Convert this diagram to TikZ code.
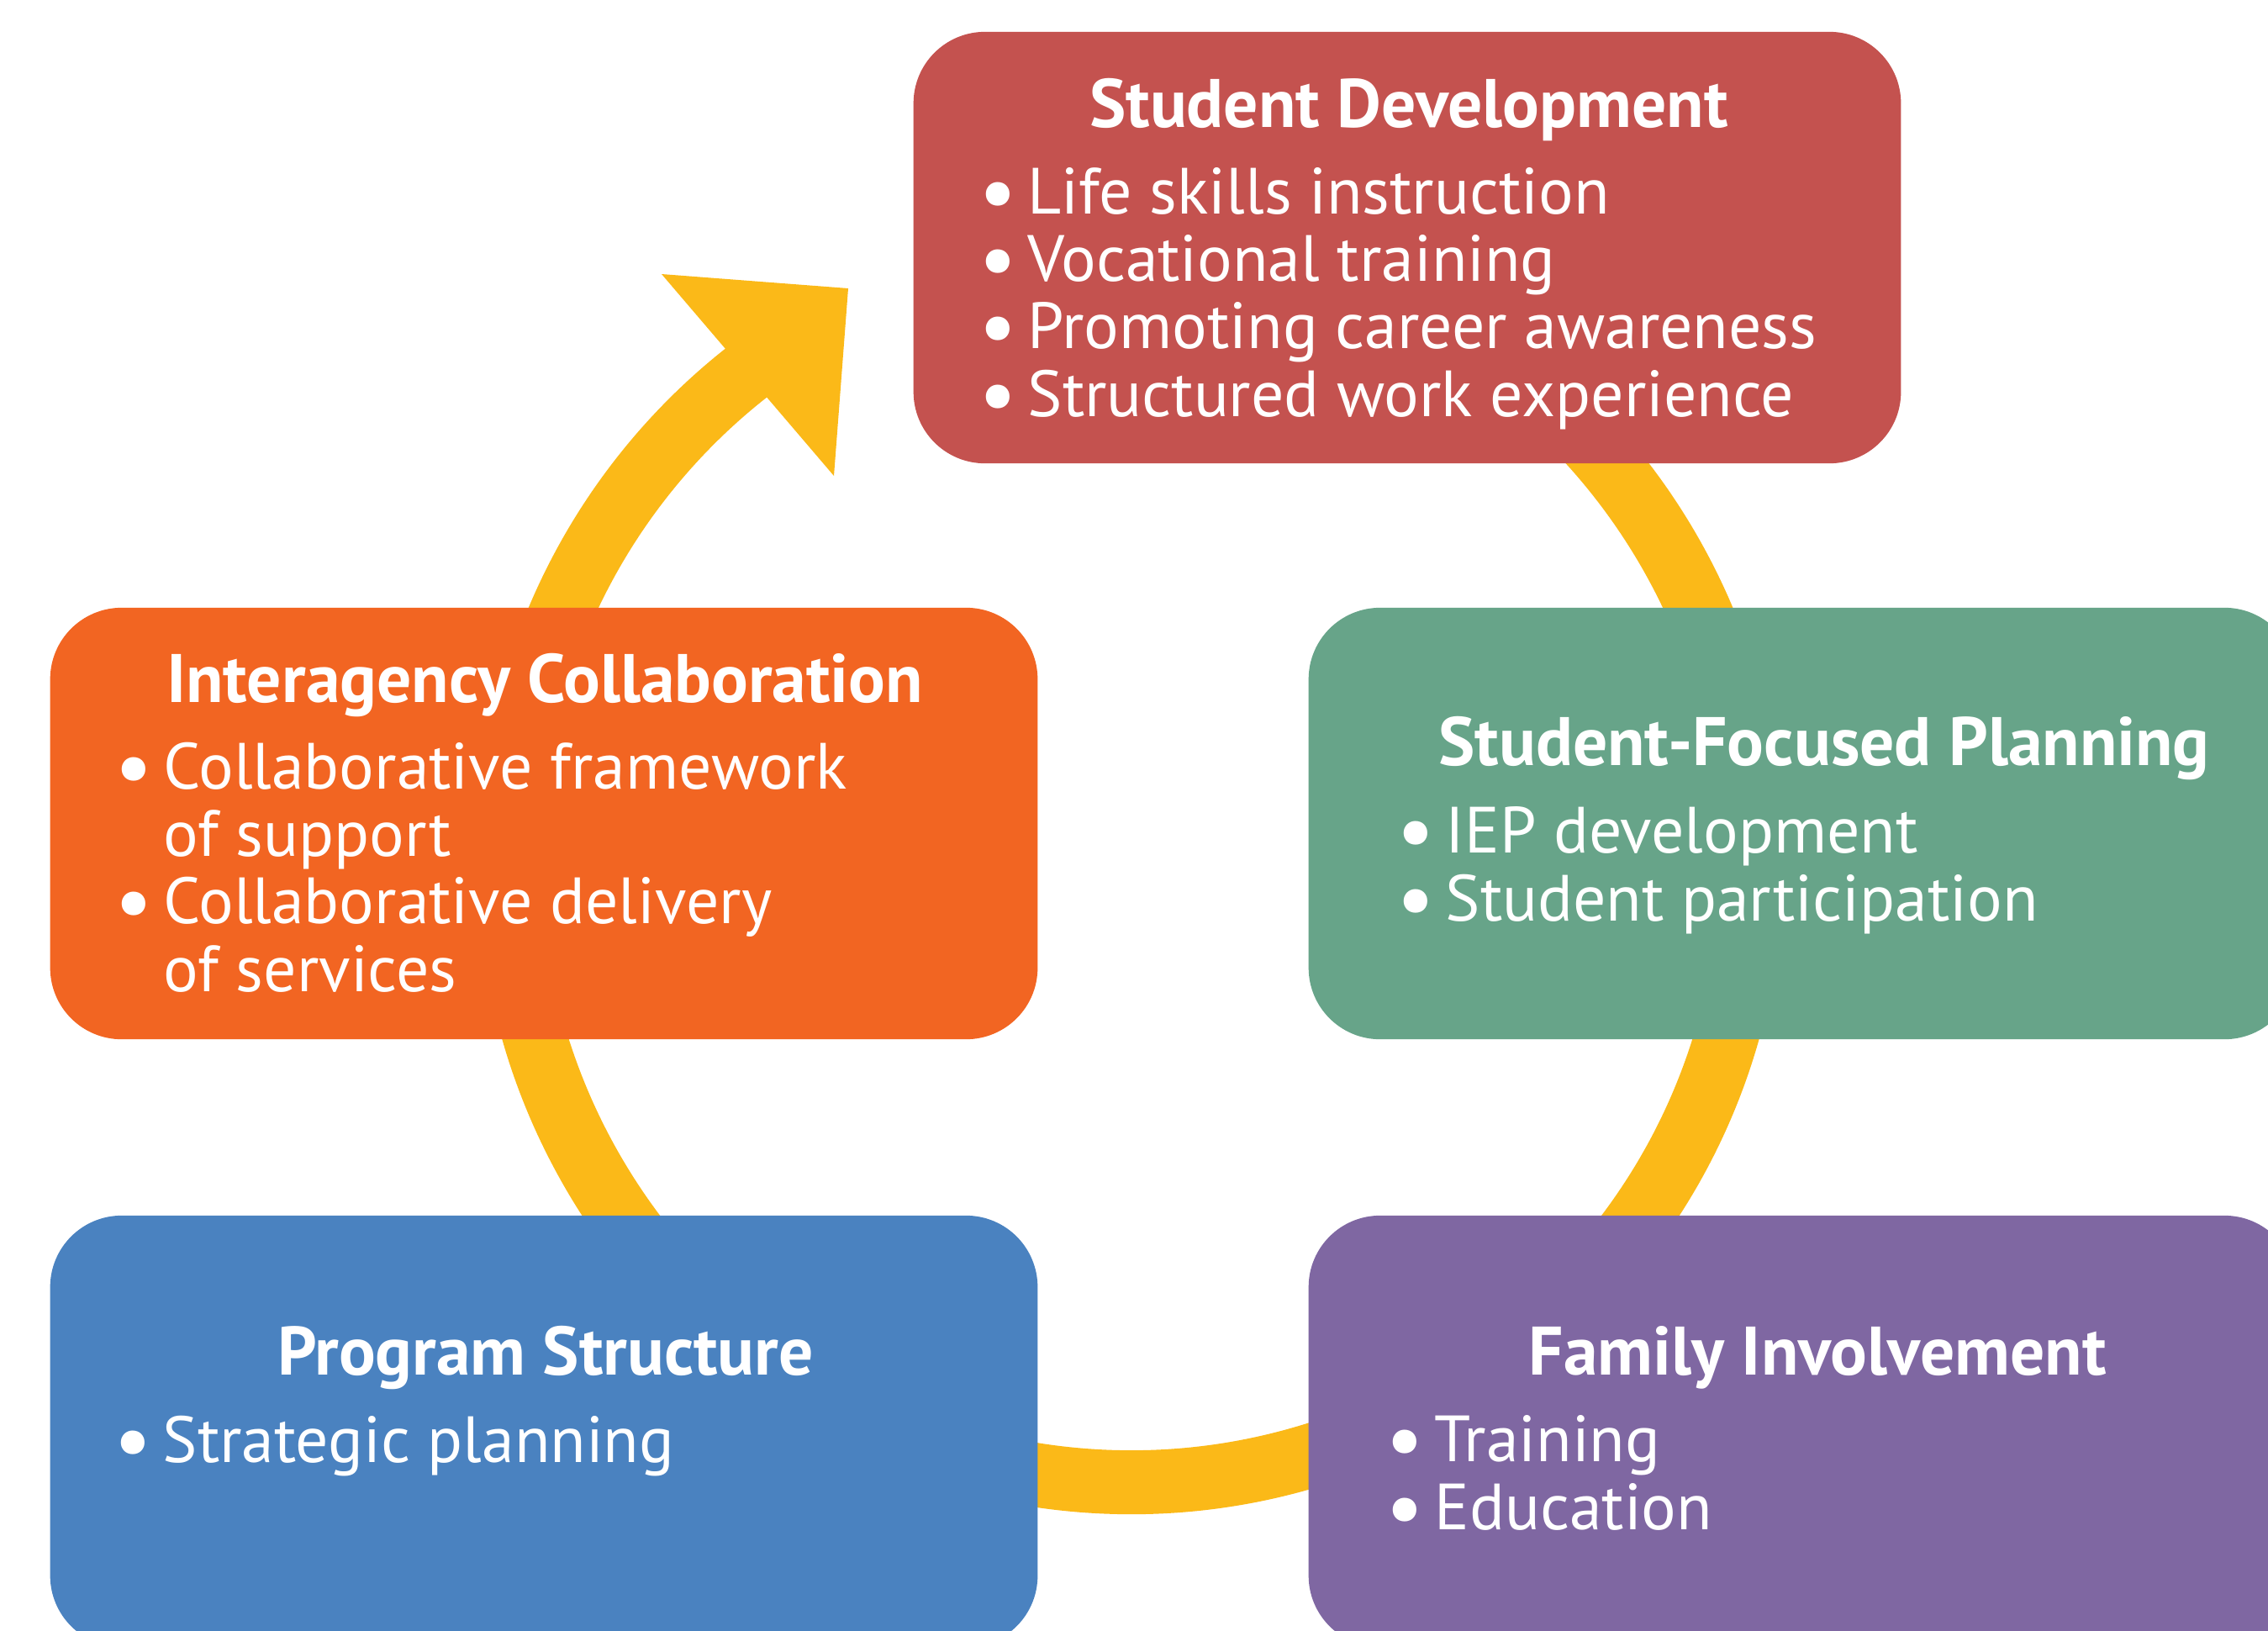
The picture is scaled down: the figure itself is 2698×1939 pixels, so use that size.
\documentclass[tikz,border=0pt]{standalone}
\usepackage{fontspec}
\setmainfont{PT Sans}
\usepackage{xcolor}
\usepackage{graphicx}
\usepackage{tikz}
\usetikzlibrary{positioning}
\definecolor{sdred}{HTML}{C4524F}
\definecolor{iaorange}{HTML}{F26522}
\definecolor{sfgreen}{HTML}{67A489}
\definecolor{psblue}{HTML}{4A82C0}
\definecolor{fipurple}{HTML}{7F67A2}
\definecolor{ringyel}{HTML}{FBB918}
\newcommand{\itm}[1]{\makebox[0.58cm][l]{\raisebox{-0.08cm}{\scalebox{1.3}{\textbullet}}}#1}
\newcommand{\cont}[1]{\hspace*{0.58cm}#1}

\begin{document}
\begin{tikzpicture}[x=0.01cm, y=-0.01cm,
  box/.style={fill=#1, rounded corners=0.85cm, minimum width=11.74cm, minimum height=5.13cm, inner sep=0pt},
  ttl/.style={anchor=base, text=white, inner sep=0pt, font=\bfseries\fontsize{23.2}{22.8}\selectfont},
  lst/.style={anchor=base west, text=white, inner sep=0pt, align=left, font=\fontsize{22.1}{22.8}\selectfont},
  ring/.style={draw=ringyel, line width=0.76cm}]
\useasboundingbox (0,0) rectangle (2698,1939);
% cycle ring with arrowhead
\coordinate (hub) at (1345,1024);
\draw[ring] (hub) ++(-80:739) arc[start angle=-80, end angle=234, radius=739];
\coordinate (barbL) at (787,326); \coordinate (tip) at (1009,343); \coordinate (barbR) at (992,566);
\fill[ringyel] (barbL) -- (tip) -- (barbR) -- cycle;
% boxes
\node[box=sdred]    (sd)  at (1674,294.5)  {};
\node[box=iaorange] (ia)  at (647,979.5)   {};
\node[box=sfgreen]  (sfp) at (2144,979.5)  {};
\node[box=psblue]   (ps)  at (647,1702.5)  {};
\node[box=fipurple] (fi)  at (2144,1702.5) {};
% texts (lists anchored at the baseline of their last line)
\node[ttl] (sdT)  at (1676,151)  {Student Development};
\node[lst] (sdL)  at (1164,495)  {\itm{Life skills instruction}\\\itm{Vocational training}\\\itm{Promoting career awareness}\\\itm{Structured work experience}};
\node[ttl] (iaT)  at (648,835)   {Interagency Collaboration};
\node[lst] (iaL)  at (136,1179)  {\itm{Collaborative framework}\\\cont{of support}\\\itm{Collaborative delivery}\\\cont{of services}};
\node[ttl] (sfpT) at (2170,910)  {Student-Focused Planning};
\node[lst] (sfpL) at (1661,1095) {\itm{IEP development}\\\itm{Student participation}};
\node[ttl] (psT)  at (649,1635)  {Program Structure};
\node[lst] (psL)  at (135,1739)  {\itm{Strategic planning}};
\node[ttl] (fiT)  at (2162,1635) {Family Involvement};
\node[lst] (fiL)  at (1648,1819) {\itm{Training}\\\itm{Education}};
\end{tikzpicture}
\end{document}
